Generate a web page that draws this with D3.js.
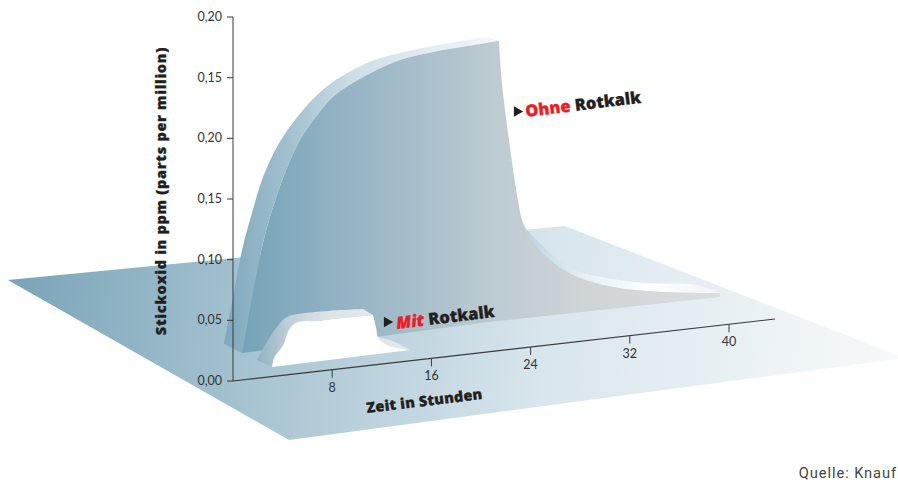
<!DOCTYPE html>
<html><head><meta charset="utf-8">
<script src="https://cdn.jsdelivr.net/npm/d3@7"></script>
<style>
html,body{margin:0;padding:0;background:#fff}
svg{display:block}
</style></head><body><div id="c"></div>
<script>
// Tick labels exactly as printed (the y axis repeats 0,15 / 0,20 in the source)
const yTickLabels=["0,00","0,05","0,10","0,15","0,20","0,15","0,20"];
const yTickLevels=[0,0.05,0.10,0.15,0.20,0.25,0.30];
const xTickHours=[8,16,24,32,40];
const axisEndHour=43.7;

// Curves: [hour, level] (level in axis units along the sheared time axis)
const floorCorners=[[-18.15,.1044],[26.77,.0964],[54.19,-.0444],[4.52,-.0539]];
const ohneFront=[[.73,.0222],[1.53,.0674],[2.34,.1077],[3.23,.1396],[4.35,.1705],[5.40,.1923],[6.61,.2090],[8.06,.2247],[10.8,.2396],[13.47,.2488],[16.13,.2523],[18.87,.2540],[21.45,.2552]];
const ohneDecay=[[21.45,.2552],[21.69,.2202],[22.18,.1785],[22.98,.1223],[23.31,.1054],[23.95,.0907],[25.32,.0726],[27.42,.0553],[30.65,.0416],[34.68,.0328],[39.27,.0266]];
const ohneBase=[[39.27,.0266],[39.27,.0233],[19.92,.0245],[12.1,.0229],[.73,.0222]];
const ohneSide=[[-.73,.0313],[0,.0692],[.73,.1071],[1.53,.1367],[2.42,.1653],[3.63,.1903],[5,.2093],[6.61,.2263],[8.06,.2370],[10.8,.2495],[13.47,.2546],[16.13,.2572],[18.87,.2590],[20.56,.2595]];
const ohneTailSide=[[23.71,.0967],[27.18,.0614],[30.65,.0482],[33.39,.0417],[37.42,.0354],[39.27,.0266]];
const mitFront=[[3.15,.0079],[3.31,.0151],[4.03,.0250],[4.6,.0383],[5.24,.0425],[6.61,.0417],[8.06,.0417],[11.29,.0412]];
const mitDrop=[[11.29,.0412],[11.55,.0300],[11.69,.0226],[12.42,.0152],[14.27,.0089]];
const mitSide=[[1.94,.0150],[2.58,.0266],[3.55,.0404],[4.35,.0476],[6.61,.0491],[10.48,.0471]];
const mitTailSide=[[11.69,.0226],[12.34,.0202],[13.23,.0159],[14.27,.0089]];

const W=898,H=488;
const svg=d3.select("#c").append("svg").attr("width",W).attr("height",H);
const x=d3.scaleLinear().domain([0,40]).range([233,729]);
const y=d3.scaleLinear().domain([0,.30]).range([381,17]);
const shear=-0.1144;
const px=d=>x(d[0]);
const py=d=>y(d[1])+shear*(x(d[0])-x(0));
const smooth=d3.line().x(px).y(py).curve(d3.curveCatmullRom.alpha(.5));
const straight=d3.line().x(px).y(py);
// Join several runs into one closed outline, keeping corners between runs sharp
const outline=(...runs)=>runs.map((r,i)=>{const s=(r.straight?straight:smooth)(r.pts||r);return i?"L"+s.slice(1):s}).join("")+"Z";
const rev=a=>a.slice().reverse();

const defs=svg.append("defs");
function grad(id,h0,h1,stops){
  const g=defs.append("linearGradient").attr("id",id).attr("gradientUnits","userSpaceOnUse")
    .attr("x1",x(h0[0])).attr("y1",h0[1]).attr("x2",x(h1[0])).attr("y2",h1[1]);
  stops.forEach(s=>g.append("stop").attr("offset",s[0]).attr("stop-color",s[1]));
}
grad("gFloor",[-18.15,290],[54.19,370],[[0,"#7aa4b8"],[.3,"#aac6d3"],[.6,"#d9e6ed"],[1,"#f8fafb"]]);
grad("gFront",[.73,0],[39.27,0],[[0,"#76a3b8"],[.2,"#92b2c3"],[.53,"#bdcbd2"],[.72,"#d0d4d7"],[1,"#dcdddf"]]);
grad("gSide",[-.73,0],[20.56,0],[[0,"#7ea8bc"],[.25,"#a3c1cf"],[.5,"#cfdfe7"],[1,"#f1f6f8"]]);
grad("gTail",[23.71,0],[39.27,0],[[0,"#bcd5e2"],[.3,"#e6f0f4"],[.65,"#ffffff"],[1,"#eef3f5"]]);
grad("gMit",[1.94,0],[11.45,0],[[0,"#8fb1c3"],[.25,"#bccdd6"],[.6,"#dfe3e6"],[1,"#e6e8ea"]]);

svg.append("path").attr("d",straight(floorCorners)+"Z").attr("fill","url(#gFloor)");
svg.append("path").attr("d",outline(ohneSide,{straight:true,pts:[ohneSide[ohneSide.length-1],ohneFront[ohneFront.length-1]]},rev(ohneFront),{straight:true,pts:[ohneFront[0],ohneSide[0]]})).attr("fill","url(#gSide)");
svg.append("path").attr("d",outline(ohneTailSide,rev(ohneDecay.slice(4)))).attr("fill","url(#gTail)");
svg.append("path").attr("d",outline(ohneFront,ohneDecay,{straight:true,pts:ohneBase})).attr("fill","url(#gFront)");
svg.append("path").attr("d",outline(mitSide,{straight:true,pts:[mitSide[mitSide.length-1],mitFront[mitFront.length-1]]},rev(mitFront))).attr("fill","url(#gMit)");
svg.append("path").attr("d",outline(mitTailSide,rev(mitDrop.slice(2)))).attr("fill","#e3e7ea");
svg.append("path").attr("d",outline(mitFront,mitDrop)).attr("fill","#fff");

const axisCol="#3a3a3c";
const tickFont="Lato, sans-serif";
svg.append("line").attr("x1",x(0)).attr("x2",x(0)).attr("y1",y(.30)).attr("y2",y(0)).attr("stroke",axisCol).attr("stroke-width",1);
yTickLevels.forEach((v,i)=>{
  svg.append("line").attr("x1",x(0)-6).attr("x2",x(0)).attr("y1",y(v)).attr("y2",y(v)).attr("stroke",axisCol);
  svg.append("text").attr("x",x(0)-11).attr("y",y(v)+4).attr("text-anchor","end").attr("font-family",tickFont).attr("font-size",12.5).attr("fill","#333").text(yTickLabels[i]);
});
svg.append("line").attr("x1",x(0)).attr("y1",py([0,0])).attr("x2",x(axisEndHour)).attr("y2",py([axisEndHour,0])).attr("stroke",axisCol).attr("stroke-width",1.2);
xTickHours.forEach(h=>{
  const a=py([h,0]);
  svg.append("line").attr("x1",x(h)).attr("x2",x(h)).attr("y1",a).attr("y2",a+8).attr("stroke",axisCol);
  svg.append("text").attr("x",x(h)).attr("y",a+22).attr("text-anchor","middle").attr("font-family",tickFont).attr("font-size",12.5).attr("fill","#333").text(h);
});

const heavy=(sel,size)=>sel.attr("font-family","'Open Sans', sans-serif").attr("font-size",size).attr("font-weight",800).attr("fill","#231f20").attr("stroke","#231f20").attr("stroke-width",.3);
heavy(svg.append("text").attr("transform","translate(166,191) rotate(-90)").attr("text-anchor","middle"),14.5).attr("letter-spacing",.7).text("Stickoxid in ppm (parts per million)");
heavy(svg.append("text").attr("transform","translate(425,406) rotate(-7)").attr("text-anchor","middle"),14.5).attr("letter-spacing",.2).text("Zeit in Stunden");

function note(tx,ty,red,size,slant){
  const t=heavy(svg.append("text").attr("transform",`translate(${tx},${ty}) rotate(-7)`),size);
  t.append("tspan").attr("fill","#ed1c24").attr("stroke","#ed1c24").attr("font-style",slant).text(red);
  t.append("tspan").text(" Rotkalk");
}
note(526,117,"Ohne",16.5,"normal");
note(397,329,"Mit",16.5,"italic");
const tri=d3.symbol().type(d3.symbolTriangle).size(50);
[[517,111.5],[387,322]].forEach(p=>svg.append("path").attr("d",tri()).attr("transform",`translate(${p[0]},${p[1]}) rotate(90)`).attr("fill","#231f20"));

svg.append("text").attr("x",897).attr("y",478).attr("text-anchor","end").attr("font-family","Roboto, sans-serif").attr("font-size",14.7).attr("letter-spacing",".9").attr("fill","#444").text("Quelle: Knauf");
</script></body></html>
